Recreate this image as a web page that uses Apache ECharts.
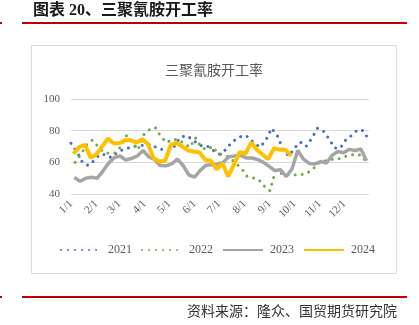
<!DOCTYPE html>
<html><head><meta charset="utf-8">
<script src="https://cdn.jsdelivr.net/npm/echarts@6/dist/echarts.min.js"></script>
<style>html,body{margin:0;padding:0;background:#fff}#c{width:419px;height:325px}</style>
</head><body><div id="c"></div>
<script>
// ---- data ----
const monthLengths = [31,28,31,30,31,30,31,31,30,31,30,31];
const seriesNames = ['2021','2022','2023','2024'];
const startDays = [0, 5, 4, 3];          // day-of-year of first weekly reading
const stepDays = 7;                      // weekly data
const v2021 = [72,67,60,58,61,65,65,63,66,68,69,70,70.5,71,71.5,69,68,67.5,70,75.5,77,75,72,70,70,67,65,68,72.5,75,77,76,72,69.6,74,81.5,77,68,64,69,72.8,70,75,81.5,80,75,69,69,74.5,77,80.5,80,74];
const v2022 = [60,65,71,74,70,66.5,65.5,66,70,77,72,68,77.5,80.6,82,76,72.5,74.5,74.3,72,69.5,75.5,69.5,68,70,65.5,64.5,63,59.5,56.3,51.2,50.3,49.2,45,42,55,53,52.2,52,52.2,52.5,54.3,57.5,61,61,62,62.2,63.5,64.7,64.8,64.5,59];
const v2023 = [50.5,48,50,50.6,50,54.5,59.5,63,64,61.5,62.5,64,67.5,63.5,61.8,58,57.8,59,62,58,52,50.6,55,58.2,58.4,59,60,63.5,64,64.5,62.8,62.7,61.8,60,57.5,54.8,55.3,51,56,67.5,62,59.3,59,60.5,59.6,64.5,66.8,66,68.2,67.5,68.4,61];
const v2024 = [65.4,69.6,71,63,65,70,75,72,72,74,74,72.5,74.5,71.5,62.5,60.5,61,71,72.3,70,67.5,66.8,66.2,61.6,61,55.5,59.5,51,58.5,66.5,65.4,72.5,68,65,62,69,68,68,64];
const yTicks = [40, 60, 80, 100];
const chartTitle = '三聚氰胺开工率';
const headerTitle = '图表 20、三聚氰胺开工率';
const sourceText = '资料来源：隆众、国贸期货研究院';

// ---- build ----
const dayLabels = [];
monthLengths.forEach((n, m) => { for (let d = 1; d <= n; d++) dayLabels.push((m + 1) + '/' + d); });
const values = [v2021, v2022, v2023, v2024];
const toPairs = (arr, s) => arr.map((v, i) => [s + stepDays * i, v]);

const styles = [
  {color:'#4472C4', width:3, type:[0.01,7], cap:'round'},
  {color:'#70AD47', width:3, type:[0.01,7], cap:'round'},
  {color:'#A5A5A5', width:3.5, type:'solid', cap:'butt'},
  {color:'#FFC000', width:4, type:'solid', cap:'butt'}
];

const serif = 'Liberation Serif';
const cjk = 'Noto Sans CJK SC';

const chart = echarts.init(document.getElementById('c'), null, {renderer:'canvas'});
chart.setOption({
  backgroundColor:'#fff',
  animation:false,
  grid:{left:71, right:50, top:99, bottom:131, containLabel:false},
  xAxis:{
    type:'category', data:dayLabels, boundaryGap:false,
    axisLine:{show:false}, axisTick:{show:false}, splitLine:{show:false},
    axisLabel:{
      interval:(i, v) => /\/1$/.test(v),
      rotate:45, margin:8, fontFamily:serif, fontSize:11, color:'#595959'
    }
  },
  yAxis:{
    type:'value', min:yTicks[0], max:yTicks[yTicks.length-1], interval:20,
    axisLine:{show:false}, axisTick:{show:false},
    splitLine:{lineStyle:{color:'#d9d9d9', width:1}},
    axisLabel:{margin:11, fontFamily:serif, fontSize:11, color:'#595959'}
  },
  legend:{
    left:60, top:244, itemWidth:40, itemHeight:14, itemGap:9, padding:0,
    itemStyle:{opacity:0, borderWidth:0},
    textStyle:{fontFamily:serif, fontSize:12, color:'#595959', padding:[0,0,0,2]},
    data:seriesNames
  },
  series: seriesNames.map((name, k) => ({
    name, type:'line', data:toPairs(values[k], startDays[k]),
    symbol:'none', smooth:false,
    lineStyle:styles[k], itemStyle:{color:styles[k].color}
  })),
  graphic:[
    {type:'rect', silent:true, shape:{x:31.5, y:45.5, width:365, height:228}, style:{fill:'none', stroke:'#d9d9d9', lineWidth:1}},
    {type:'text', x:214, y:70, style:{text:chartTitle, font:'14px "'+cjk+'"', fill:'#595959', align:'center', verticalAlign:'middle'}},
    {type:'text', x:33, y:11, style:{text:headerTitle, font:'bold 16px "'+serif+'", "'+cjk+'"', fill:'#1a1a1a', align:'left', verticalAlign:'middle'}},
    {type:'line', shape:{x1:22, y1:23, x2:407, y2:23}, style:{stroke:'#C00000', lineWidth:2}},
    {type:'line', shape:{x1:0, y1:23, x2:2, y2:23}, style:{stroke:'#C00000', lineWidth:2}},
    {type:'line', shape:{x1:22, y1:297, x2:407, y2:297}, style:{stroke:'#C00000', lineWidth:2}},
    {type:'line', shape:{x1:0, y1:297, x2:2, y2:297}, style:{stroke:'#C00000', lineWidth:2}},
    {type:'text', x:397, y:310.5, style:{text:sourceText, font:'14px "'+cjk+'"', fill:'#333', align:'right', verticalAlign:'middle'}}
  ]
});
</script>
</body></html>
